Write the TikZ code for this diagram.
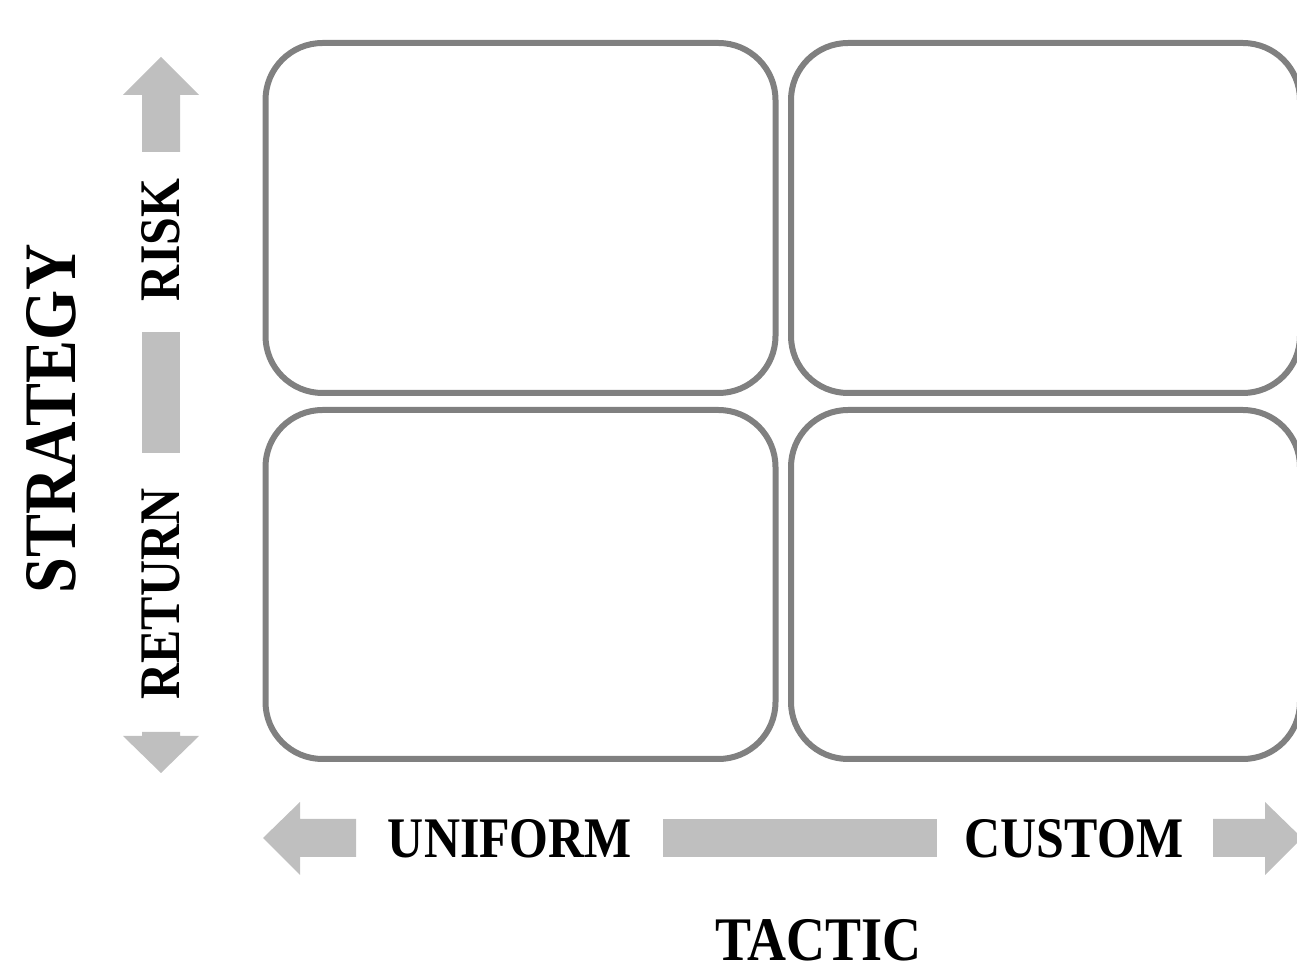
\documentclass[tikz,border=0pt]{standalone}
\usepackage{fontspec}
\newfontfamily\lblfont[FakeStretch=0.87]{Liberation Serif}
\usetikzlibrary{positioning}
\definecolor{boxgray}{HTML}{808080}
\definecolor{bargray}{HTML}{BFBFBF}
\tikzset{
	quad/.style={draw=boxgray, line width=3pt, rounded corners=28.5pt,
		minimum width=255pt, minimum height=175pt, inner sep=0pt},
	bar/.style={fill=bargray, draw=none},
	axislabel/.style={font=\lblfont\bfseries\fontsize{28.7}{30}\selectfont, inner sep=0pt},
	axistitle/.style={font=\lblfont\bfseries\fontsize{37}{40}\selectfont, inner sep=0pt}
}

\begin{document}
\begin{tikzpicture}[x=0.5pt,y=-0.5pt]
		\useasboundingbox (0,0) rectangle (1297,967);
		\clip (0,0) rectangle (1297,967);
		% the four quadrants
		\node[quad] (A) at (520.5,218) {};
		\node[quad, minimum width=254.5pt] (B) at (1045.5,218) {};
		\node[quad, minimum height=174.5pt] (C) at (520.5,584.5) {};
		\node[quad, minimum width=254.5pt, minimum height=174.5pt] (D) at (1045.5,584.5) {};
		
		% vertical axis
		\fill[bar] (142,152) -- (142,95) -- (123,95) -- (161,57) -- (199,95) -- (180,95) -- (180,152) -- cycle;
		\fill[bar] (142,332) rectangle (180,453);
		\fill[bar] (142,732) -- (142,736) -- (123,736) -- (161,773) -- (199,736) -- (180,736) -- (180,732) -- cycle;
		\node[axislabel, rotate=90] (risk) at (161,240) {RISK};
		\node[axislabel, rotate=90] (return) at (161,594) {RETURN};
		\node[axistitle, rotate=90] (strategy) at (51,419) {STRATEGY};
		
		% horizontal axis
		\fill[bar] (356,819) -- (300,819) -- (300,802) -- (263,838) -- (300,875) -- (300,857) -- (356,857) -- cycle;
		\fill[bar] (663,819) rectangle (937,857);
		\fill[bar] (1213,819) -- (1265,819) -- (1265,802) -- (1302,838) -- (1265,875) -- (1265,857) -- (1213,857) -- cycle;
		\node[axislabel] (uniform) at (510,839) {UNIFORM};
		\node[axislabel] (custom) at (1074,839) {CUSTOM};
		\node[axistitle, font=\lblfont\bfseries\fontsize{31}{34}\selectfont] (tactic) at (818.5,940) {TACTIC};
		\end{tikzpicture}
\end{document}
